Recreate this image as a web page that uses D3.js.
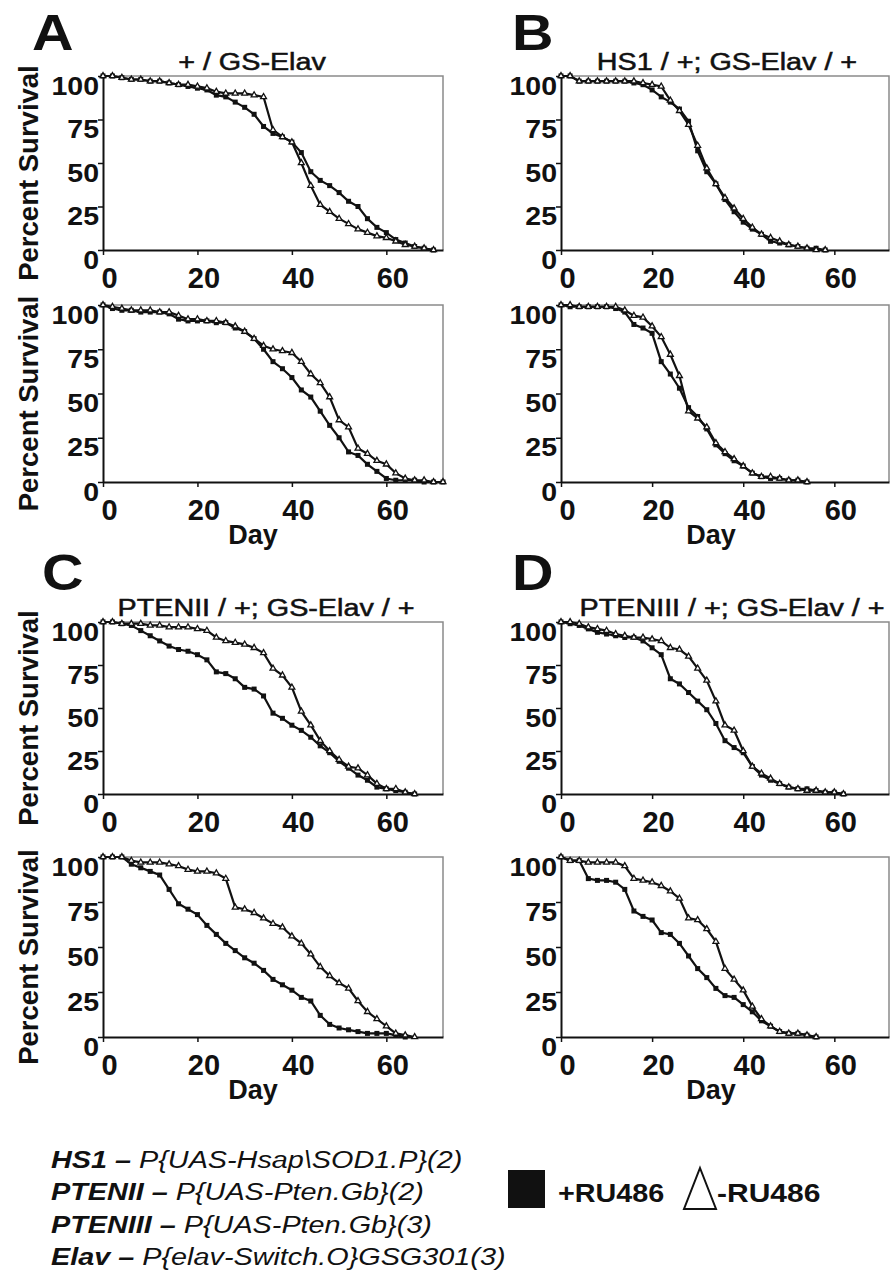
<!DOCTYPE html>
<html lang="en">
<head>
<meta charset="UTF-8">
<title>Survival curves</title>
<script src="https://cdn.jsdelivr.net/npm/d3@7"></script>
<style>
  body { margin: 0; background: #fff; }
  svg { display: block; font-family: "Liberation Sans", Arial, sans-serif; }
</style>
</head>
<body>
<svg id="fig" width="891" height="1277"></svg>
<script>
// day of each reading (values below are indexed on these)
const DAYS = [0,2,4,6,8,10,12,14,16,18,20,22,24,26,28,30,32,34,36,38,40,42,44,46,48,50,52,54,56,58,60,62,64,66,68,70,72];

// percent survival, +RU486 (squares) and -RU486 (triangles)
const aTopPlus  = [100,100,99,98,98,97,97,96,95,94,93,92,89,88,85,82,78,71,67,65,62,56,45,40,37,33,28,25,18,13,10,6,4,2,1,0];
const aTopMinus = [100,100,99,98,98,97,97,96,95,95,94,93,91,90,90,90,89,88,69,65,62,50,37,26,22,18,15,12,10,8,7,5,3,2,1,0];
const aBotPlus  = [100,98,97,97,96,96,96,95,92,91,91,91,90,90,87,85,81,75,68,64,59,52,48,40,32,25,17,15,10,6,2,1,1,1,0,0,0];
const aBotMinus = [100,99,98,97,97,97,96,96,94,92,92,91,91,90,88,85,81,77,75,74,73,68,61,56,48,35,31,19,16,12,10,5,2,1,1,0,0];

const bTopPlus  = [100,100,97,97,97,97,97,97,96,95,92,88,85,81,74,57,45,38,29,22,16,12,9,5,4,3,2,1,1,0];
const bTopMinus = [100,100,97,97,97,97,97,97,97,96,95,94,86,80,72,60,47,38,30,24,18,13,9,7,5,3,2,1,0,0];
const bBotPlus  = [100,99,99,99,99,99,98,96,89,87,84,68,61,53,42,37,30,21,16,12,9,5,3,2,2,1,1,0];
const bBotMinus = [100,100,99,99,99,99,99,97,94,93,88,82,72,60,40,36,31,22,17,13,9,5,3,3,2,1,1,0];

const cTopPlus  = [100,100,99,98,95,92,89,86,84,83,81,78,71,70,67,62,61,57,47,44,40,37,33,28,24,19,15,11,8,4,3,2,1,0];
const cTopMinus = [100,100,99,99,99,98,98,97,97,97,96,95,91,89,88,87,85,82,73,69,62,48,40,31,25,20,16,15,11,6,3,3,1,0];
const cBotPlus  = [100,100,100,96,94,92,90,82,74,71,68,62,57,52,48,44,41,37,32,29,26,22,20,12,7,5,4,3,2,2,2,1,0];
const cBotMinus = [100,100,100,98,97,97,97,96,95,93,92,92,91,88,72,71,69,66,63,61,56,52,46,39,34,30,27,20,14,10,6,2,1,0];

const dTopPlus  = [100,99,98,96,94,93,92,91,91,89,85,81,67,64,59,54,49,41,31,27,24,16,11,8,6,4,3,3,2,1,1,0];
const dTopMinus = [100,100,99,97,96,95,93,92,91,91,90,89,85,84,80,73,66,54,40,37,25,16,12,9,6,4,3,2,2,1,1,0];
const dBotPlus  = [100,98,98,88,87,87,86,82,70,67,65,58,57,52,45,38,33,27,23,22,18,14,9,6,3,2,2,1,0];
const dBotMinus = [100,98,98,97,97,97,97,95,88,87,86,84,81,77,66,65,60,53,38,32,26,17,10,6,3,2,2,1,0];

const yTicks = [0,25,50,75,100];
const xTicks = [0,20,40,60];
const panelLetters = ["A","B","C","D"];
const panelTitles = ["+ / GS-Elav","HS1 / +; GS-Elav / +","PTENII / +; GS-Elav / +","PTENIII / +; GS-Elav / +"];
const seriesNames = ["+RU486","-RU486"];
const legendAbbr = ["HS1","PTENII","PTENIII","Elav"];
const legendDesc = ["P{UAS-Hsap\\SOD1.P}(2)","P{UAS-Pten.Gb}(2)","P{UAS-Pten.Gb}(3)","P{elav-Switch.O}GSG301(3)"];

// layout
const cols = [{left: 103, right: 443}, {left: 561, right: 889}];
const rows = [{top: 76, bottom: 250}, {top: 305, bottom: 482}, {top: 622, bottom: 794}, {top: 857, bottom: 1037}];
const panelPos = [
  {col: 0, row: 0, letterX: 32, letterY: 50, titleX: 252},
  {col: 1, row: 0, letterX: 512, letterY: 50, titleX: 727},
  {col: 0, row: 2, letterX: 42, letterY: 590, titleX: 266},
  {col: 1, row: 2, letterX: 512, letterY: 590, titleX: 732}
];
const plots = [
  {col: 0, row: 0, plus: aTopPlus, minus: aTopMinus},
  {col: 0, row: 1, plus: aBotPlus, minus: aBotMinus, day: true},
  {col: 1, row: 0, plus: bTopPlus, minus: bTopMinus},
  {col: 1, row: 1, plus: bBotPlus, minus: bBotMinus, day: true},
  {col: 0, row: 2, plus: cTopPlus, minus: cTopMinus},
  {col: 0, row: 3, plus: cBotPlus, minus: cBotMinus, day: true},
  {col: 1, row: 2, plus: dTopPlus, minus: dTopMinus},
  {col: 1, row: 3, plus: dBotPlus, minus: dBotMinus, day: true}
];

const svg = d3.select("#fig");
svg.append("rect").attr("width", 891).attr("height", 1277).attr("fill", "#fff");

const toPts = vals => vals.map((v, i) => [DAYS[i], v]);
const tri = d3.symbol().type(d3.symbolTriangle).size(15);

plots.forEach(p => {
  const c = cols[p.col], r = rows[p.row];
  const x = d3.scaleLinear().domain([0, 72]).range([c.left, c.right]);
  const y = d3.scaleLinear().domain([0, 100]).range([r.bottom, r.top]);
  const g = svg.append("g");

  // grey plot-area frame (top and right)
  g.append("path")
    .attr("d", `M${c.left},${r.top}H${c.right}V${r.bottom}`)
    .attr("fill", "none").attr("stroke", "#8a8a8a").attr("stroke-width", 1.5);

  const yAxis = g.append("g").attr("transform", `translate(${c.left},0)`)
    .call(d3.axisLeft(y).tickValues(yTicks).tickSize(5).tickSizeOuter(0));
  yAxis.selectAll("text")
    .attr("x", null).attr("dy", null)
    .attr("transform", "translate(-4,18) scale(1.14,1)")
    .attr("text-anchor", "end")
    .style("font-size", "25px").style("font-weight", "bold").attr("fill", "#111");

  const xAxis = g.append("g").attr("transform", `translate(0,${r.bottom})`)
    .call(d3.axisBottom(x).tickValues(xTicks).tickSize(5).tickSizeOuter(0));
  xAxis.selectAll("text")
    .attr("y", null).attr("dy", null)
    .attr("transform", "translate(6,38)")
    .style("font-size", "29px").style("font-weight", "bold").attr("fill", "#111");

  [yAxis, xAxis].forEach(a => {
    a.select(".domain").attr("stroke", "#111").attr("stroke-width", 2);
    a.selectAll(".tick line").attr("stroke", "#111").attr("stroke-width", 1.5);
  });

  const line = d3.line().x(d => x(d[0])).y(d => y(d[1]));
  const plus = toPts(p.plus), minus = toPts(p.minus);
  [plus, minus].forEach(s => {
    g.append("path").attr("d", line(s))
      .attr("fill", "none").attr("stroke", "#111").attr("stroke-width", 2.2);
  });
  g.selectAll(".sq").data(plus).join("rect")
    .attr("x", d => x(d[0]) - 2.5).attr("y", d => y(d[1]) - 2.5)
    .attr("width", 5).attr("height", 5).attr("fill", "#111");
  g.selectAll(".tr").data(minus).join("path")
    .attr("d", tri)
    .attr("transform", d => `translate(${x(d[0])},${y(d[1])})`)
    .attr("fill", "#fff").attr("stroke", "#111").attr("stroke-width", 1.3);

  if (p.col === 0) {
    const cy = (r.top + r.bottom) / 2 + 10;
    svg.append("text")
      .attr("transform", `translate(38,${cy}) rotate(-90)`)
      .attr("text-anchor", "middle")
      .style("font-size", "27.5px").style("font-weight", "bold").attr("fill", "#111")
      .text("Percent Survival");
  }
  if (p.day) {
    svg.append("text")
      .attr("x", c.left + 150).attr("y", r.bottom + 62)
      .attr("text-anchor", "middle")
      .style("font-size", "27px").style("font-weight", "bold").attr("fill", "#111")
      .text("Day");
  }
});

panelPos.forEach((pp, i) => {
  const r = rows[pp.row];
  svg.append("text")
    .attr("transform", `translate(${pp.letterX},${pp.letterY}) scale(1.15,1)`)
    .style("font-size", "50px").style("font-weight", "bold").attr("fill", "#111")
    .text(panelLetters[i]);
  svg.append("text")
    .attr("transform", `translate(${pp.titleX},${r.top - 6}) scale(1.25,1)`)
    .attr("text-anchor", "middle")
    .style("font-size", "23px").attr("fill", "#111")
    .attr("stroke", "#111").attr("stroke-width", 0.5)
    .text(panelTitles[i]);
});

// genotype key
const key = svg.append("g");
legendAbbr.forEach((a, i) => {
  const t = key.append("text")
    .attr("transform", `translate(51,${1168 + i * 32.4}) scale(1.2,1)`)
    .style("font-size", "24px").style("font-style", "italic").attr("fill", "#111");
  t.append("tspan").style("font-weight", "bold").text(a + " \u2013 ");
  t.append("tspan").text(legendDesc[i]);
});

// treatment key
key.append("rect").attr("x", 508).attr("y", 1170).attr("width", 37).attr("height", 38).attr("fill", "#111");
key.append("text").attr("transform", "translate(558,1202) scale(1.15,1)")
  .style("font-size", "25px").style("font-weight", "bold").attr("fill", "#111")
  .text(seriesNames[0]);
key.append("path").attr("d", "M700,1168L716,1209H684Z")
  .attr("fill", "#fff").attr("stroke", "#111").attr("stroke-width", 2);
key.append("text").attr("transform", "translate(717,1202) scale(1.2,1)")
  .style("font-size", "25px").style("font-weight", "bold").attr("fill", "#111")
  .text(seriesNames[1]);
</script>
</body>
</html>
